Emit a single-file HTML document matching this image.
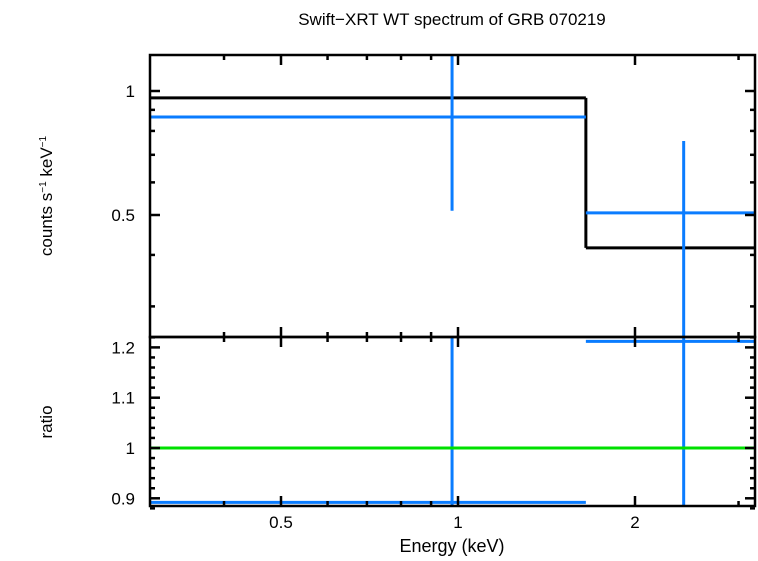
<!DOCTYPE html>
<html><head><meta charset="utf-8"><style>
body{margin:0;background:#fff}
svg text{font-family:"Liberation Sans",sans-serif;fill:#000}
</style></head><body>
<svg id="c" width="758" height="556" xmlns="http://www.w3.org/2000/svg">
<text x="452" y="25" font-size="17" text-anchor="middle">Swift−XRT WT spectrum of GRB 070219</text>
<text x="452" y="552" font-size="18" text-anchor="middle">Energy (keV)</text>
<text transform="translate(52,196) rotate(-90)" font-size="17" text-anchor="middle">counts s<tspan font-size="10" dy="-6">−1</tspan><tspan dy="6"> keV</tspan><tspan font-size="10" dy="-6">−1</tspan></text>
<text transform="translate(52,422) rotate(-90)" font-size="17" text-anchor="middle">ratio</text>
<g id="g"></g>
</svg>
<script>
const xTicks=[0.5,1,2];
const xMinor=[0.4,0.6,0.7,0.8,0.9,3];
const topTicks=[0.5,1];
const topMinor=[0.3,0.4,0.6,0.7,0.8,0.9];
const ratioTicks=[0.9,1,1.1,1.2];
const modelLo=[0.3,1.65];
const modelHi=[1.65,3.3];
const modelVal=[0.962,0.416];
const dataX=[0.977,2.42];
const dataLo=[0.3,1.65];
const dataHi=[1.65,3.3];
const dataY=[0.865,0.506];
const dataYlo=[0.512,0.2];
const dataYhi=[1.4,0.756];
const ratioY=[0.892,1.212];
const ratioLo=[0.8,0.8];
const ratioHi=[1.3,1.3];

const L=150,R=755,T=55,M=337,B=506;
const xs=e=>458+177*Math.log2(e);
const ys=v=>91-124*Math.log2(v);
const yr=v=>448-(v-1)*503;
const g=document.getElementById('g');
const NS='http://www.w3.org/2000/svg';
function mk(t,a){const e=document.createElementNS(NS,t);for(const k in a)e.setAttribute(k,a[k]);g.appendChild(e);return e;}
const cl=(v,a,b)=>Math.max(a,Math.min(b,v));
function ln(x1,y1,x2,y2,c,w,n){const e=mk('line',{x1,y1,x2,y2,stroke:c,'stroke-width':w});

return e;}
modelVal.forEach((v,i)=>{ln(cl(xs(modelLo[i]),L,R),ys(v),cl(xs(modelHi[i]),L,R),ys(v),'#000',3,'model-step');
 if(i>0){ln(xs(modelLo[i]),ys(modelVal[i-1]),xs(modelLo[i]),ys(v),'#000',3,'model-step');}});
dataX.forEach((x,i)=>{const c='#0a7cff';
 ln(cl(xs(dataLo[i]),L,R),ys(dataY[i]),cl(xs(dataHi[i]),L,R),ys(dataY[i]),c,3,'data-point');
 ln(xs(x),cl(ys(dataYhi[i]),T,M),xs(x),cl(ys(dataYlo[i]),T,M),c,3,'data-error-bar');
 ln(cl(xs(dataLo[i]),L,R),cl(yr(ratioY[i]),M,B),cl(xs(dataHi[i]),L,R),cl(yr(ratioY[i]),M,B),c,3,'ratio-point');
 ln(xs(x),cl(yr(ratioHi[i]),M,B),xs(x),cl(yr(ratioLo[i]),M,B),c,3,'ratio-error-bar');});
ln(L,yr(1),R,yr(1),'#00e000',3,'unity-line');
for(const [y1,y2] of [[T,M],[M,B]]){const r=mk('rect',{x:L,y:y1,width:R-L,height:y2-y1,fill:'none',stroke:'#000','stroke-width':2.5});

}
xTicks.concat(xMinor).forEach(e=>{const x=xs(e),l=xTicks.includes(e)?10:5;
 [[T,1],[M,1],[M,-1],[B,-1]].forEach(([y,d])=>ln(x,y,x,y+d*l,'#000',2.5,'x-tick'));});
xTicks.forEach(e=>{const t=mk('text',{x:xs(e),y:528,'font-size':17,'text-anchor':'middle'});t.textContent=e;

});
topTicks.concat(topMinor).forEach(v=>{const y=ys(v),l=topTicks.includes(v)?10:5;
 ln(L,y,L+l,y,'#000',2.5,'y-tick');ln(R,y,R-l,y,'#000',2.5,'y-tick');});
topTicks.forEach(v=>{const t=mk('text',{x:135,y:ys(v)+6,'font-size':17,'text-anchor':'end'});t.textContent=v;

});
for(let v=0.88;v<=1.221;v+=0.02){const r=Math.round(v*100)/100,y=yr(r),l=(Math.round(r*100)%10===0)?10:5;
 ln(L,y,L+l,y,'#000',2.5,'ratio-tick');ln(R,y,R-l,y,'#000',2.5,'ratio-tick');}
ratioTicks.forEach(v=>{const t=mk('text',{x:135,y:yr(v)+6,'font-size':17,'text-anchor':'end'});t.textContent=v;

});
</script>
</body></html>
